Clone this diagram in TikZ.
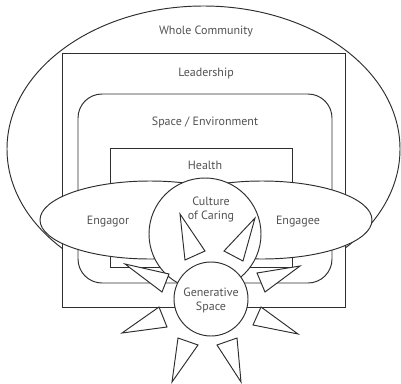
\documentclass[tikz,border=0pt]{standalone}
\usepackage{fontspec}
\setmainfont{PT Sans}
\begin{document}
\begin{tikzpicture}[x=1pt,y=-1pt,
  shape line/.style={draw=black!82, line width=0.95pt, fill=white},
  lbl/.style={text=black!68, font=\fontsize{12}{14}\selectfont, inner sep=0pt, align=center},
  ray/.style={shape line, line join=miter}]
\useasboundingbox (0,0) rectangle (401,383);
% outer ellipse
\draw[shape line] (203.5,149) ellipse [x radius=196.5pt, y radius=143pt];
% Leadership rectangle
\draw[shape line] (62,53) rectangle (345,307);
% Space / Environment rounded rectangle
\draw[shape line, rounded corners=24pt] (78,94) rectangle (332,283);
% Health rectangle
\draw[shape line] (110,148) rectangle (292,267);
% Engagor / Engagee ellipses
\draw[shape line] (150,220) ellipse [x radius=110pt, y radius=39pt];
\draw[shape line] (262,220) ellipse [x radius=110pt, y radius=39pt];
% Culture of Caring circle
\draw[shape line] (205,234) circle [radius=56pt];
% inner rays
\draw[ray] (180,214) -- (205,251) -- (185,260) -- cycle;
\draw[ray] (255,218) -- (243,261) -- (224,251) -- cycle;
% Generative space circle
\draw[shape line] (211,299) circle [radius=37pt];
% outer rays
\draw[ray] (125,264) -- (169,274) -- (162,292) -- cycle;
\draw[ray] (300,266) -- (257,273) -- (265,292) -- cycle;
\draw[ray] (122,333) -- (167,327) -- (159,307) -- cycle;
\draw[ray] (298,334) -- (253,325) -- (261,307) -- cycle;
\draw[ray] (172,382) -- (198,345) -- (178,338) -- cycle;
\draw[ray] (241,382) -- (237,338) -- (217,345) -- cycle;
% labels
\node[lbl] (tWhole) at (206,31) {Whole Community};
\node[lbl] (tLead) at (206,73) {Leadership};
\node[lbl] (tSpace) at (205,122) {Space / Environment};
\node[lbl] (tHealth) at (205,165) {Health};
\node[lbl] (tEngagor) at (108,222) {Engagor};
\node[lbl] (tEngagee) at (298,222) {Engagee};
\node[lbl] (tCulture) at (211,209) {Culture\\of Caring};
\node[lbl] (tGen) at (211,300) {Generative\\Space};
\end{tikzpicture}
\end{document}
